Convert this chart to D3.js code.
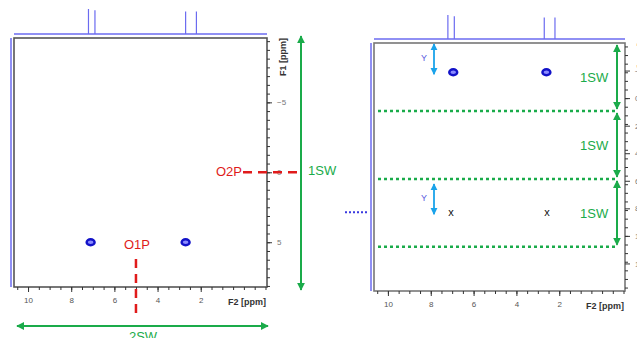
<!DOCTYPE html>
<html>
<head>
<meta charset="utf-8">
<script src="https://cdn.jsdelivr.net/npm/d3@7"></script>
<style>
  body { margin: 0; background: #fff; }
  svg { display: block; font-family: "Liberation Sans", Arial, sans-serif; }
</style>
</head>
<body>
<div id="chart"></div>
<script>
// ---- data ----
const f2Labels = [10, 8, 6, 4, 2];
const f1LeftLabels = [-5, 0, 5];
const f1RightLabels = [-2, 0, 2, 4, 6, 8, 10, 12];
const tracePeaks = [7.2, 6.9, 2.7, 2.2];       // ppm of spikes in the 1D trace
const traceHeights = [1.0, 0.95, 0.9, 0.9];
const crossPeaksF2 = [7.1, 2.7];
const crossPeakLeftF1 = 5;
const peaksRightF2 = [6.95, 2.6];
const aliasRightF2 = [7.05, 2.57];
const o1p = 5.0;       // F2 offset (ppm)
const o2p = 0;         // F1 offset (ppm)
const swBands = [0, 1, 2, 3];          // folded bands in the right panel (SW units)
const bandLabels = ["1SW", "1SW", "1SW"];
const peakRightSW = 0.43;              // observed peak position inside band 1
const aliasRightSW = 2.49;             // expected (x) position in band 3
const yArrows = [[0, 0.43], [2.06, 2.49]];

const width = 637, height = 338;
const svg = d3.select("#chart").append("svg")
  .attr("width", width).attr("height", height);

const green = "#1aab4a", red = "#e01b1b", trace = "#6b6bf0", peak = "#1212c8", cyan = "#1aa3ea";

// arrow markers
const defs = svg.append("defs");
function marker(id, color) {
  defs.append("marker").attr("id", id)
    .attr("viewBox", "0 0 10 10").attr("refX", 9).attr("refY", 5)
    .attr("markerWidth", 4).attr("markerHeight", 4).attr("orient", "auto-start-reverse")
    .append("path").attr("d", "M0,0 L10,5 L0,10 z").attr("fill", color);
}
marker("ag", green);
marker("ac", cyan);

function panel(g, box, yDomain, yLabels, traceBase, traceTop, vTraceX, frameColor) {
  const x = d3.scaleLinear().domain([10.65, -1.07]).range([box.left, box.right]);
  const y = d3.scaleLinear().domain(yDomain).range([box.top, box.bottom]);

  // 1D trace on top
  g.append("line").attr("x1", box.left).attr("x2", box.right)
    .attr("y1", traceBase).attr("y2", traceBase)
    .attr("stroke", trace).attr("stroke-width", 1.5);
  g.selectAll(".spike").data(tracePeaks).enter().append("line")
    .attr("class", "spike")
    .attr("x1", d => x(d)).attr("x2", d => x(d))
    .attr("y1", traceBase)
    .attr("y2", (d, i) => traceBase - (traceBase - traceTop) * traceHeights[i])
    .attr("stroke", trace).attr("stroke-width", 1.2);

  // 1D trace on the left
  g.append("line").attr("x1", vTraceX).attr("x2", vTraceX)
    .attr("y1", box.top).attr("y2", box.bottom)
    .attr("stroke", trace).attr("stroke-width", 1.5);

  // frame
  g.append("rect").attr("x", box.left).attr("y", box.top)
    .attr("width", box.right - box.left).attr("height", box.bottom - box.top)
    .attr("fill", "none").attr("stroke", frameColor).attr("stroke-width", 1.6);

  // x axis
  const xMinor = d3.axisBottom(x).tickValues(d3.range(-1, 10.6, 0.5)).tickSize(3).tickFormat("");
  const xMajor = d3.axisBottom(x).tickValues(f2Labels).tickSize(5).tickPadding(5);
  [xMinor, xMajor].forEach(a => {
    const ax = g.append("g").attr("transform", `translate(0,${box.bottom})`).call(a);
    ax.select(".domain").remove();
    ax.selectAll("line").attr("stroke", "#333");
    ax.selectAll("text").attr("font-size", 8).attr("fill", "#555");
  });
  g.append("text").attr("x", box.right - 1).attr("y", box.bottom + 18)
    .attr("text-anchor", "end").attr("font-size", 9).attr("font-weight", "bold")
    .attr("fill", "#333").text("F2 [ppm]");

  // y axis (right)
  const yMinor = d3.axisRight(y).tickValues(d3.range(Math.ceil(yDomain[0] / 0.625) * 0.625, yDomain[1], 0.625))
    .tickSize(3).tickFormat("");
  const yMajor = d3.axisRight(y).tickValues(yLabels).tickSize(5).tickPadding(5);
  [yMinor, yMajor].forEach(a => {
    const ax = g.append("g").attr("transform", `translate(${box.right},0)`).call(a);
    ax.select(".domain").remove();
    ax.selectAll("line").attr("stroke", "#333");
    ax.selectAll("text").attr("font-size", 8).attr("fill", "#777");
  });
  g.append("text")
    .attr("transform", `translate(${box.right + 19},${box.top + 19}) rotate(-90)`)
    .attr("text-anchor", "middle").attr("font-size", 9).attr("font-weight", "bold")
    .attr("fill", "#333").text("F1 [ppm]");

  return { x, y };
}

function crossPeak(g, data, cx, cy) {
  g.selectAll(null).data(data).enter().append("ellipse")
    .attr("cx", cx).attr("cy", cy)
    .attr("rx", 4).attr("ry", 3)
    .attr("fill", "#8a8aff").attr("stroke", peak).attr("stroke-width", 2.4);
}

// ---- left panel ----
const gL = svg.append("g");
const L = panel(gL, { left: 14, right: 267, top: 38, bottom: 287 }, [-9.6, 8.2], f1LeftLabels, 34, 9, 11, "#555");

crossPeak(gL, crossPeaksF2, d => L.x(d), L.y(crossPeakLeftF1));

// O1P
gL.append("line").attr("x1", L.x(o1p)).attr("x2", L.x(o1p))
  .attr("y1", 259).attr("y2", 316)
  .attr("stroke", red).attr("stroke-width", 2.5).attr("stroke-dasharray", "9,6");
gL.append("text").attr("x", L.x(o1p) + 1).attr("y", 249).attr("text-anchor", "middle")
  .attr("font-size", 13).attr("fill", red).text("O1P");
// O2P
gL.append("line").attr("x1", 243).attr("x2", 297)
  .attr("y1", L.y(o2p)).attr("y2", L.y(o2p))
  .attr("stroke", red).attr("stroke-width", 2.5).attr("stroke-dasharray", "9,6");
gL.append("text").attr("x", 242).attr("y", L.y(o2p) + 4).attr("text-anchor", "end")
  .attr("font-size", 13).attr("fill", red).text("O2P");

// 1SW vertical / 2SW horizontal
gL.append("line").attr("x1", 301).attr("x2", 301).attr("y1", 290).attr("y2", 36)
  .attr("stroke", green).attr("stroke-width", 2)
  .attr("marker-start", "url(#ag)").attr("marker-end", "url(#ag)");
gL.append("text").attr("x", 308).attr("y", 175).attr("font-size", 13).attr("fill", green).text("1SW");
gL.append("line").attr("x1", 17).attr("x2", 268).attr("y1", 326).attr("y2", 326)
  .attr("stroke", green).attr("stroke-width", 2)
  .attr("marker-start", "url(#ag)").attr("marker-end", "url(#ag)");
gL.append("text").attr("x", 143).attr("y", 341).attr("text-anchor", "middle")
  .attr("font-size", 13).attr("fill", green).text("2SW");

// ---- right panel ----
const gR = svg.append("g");
const R = panel(gR, { left: 374, right: 625, top: 43, bottom: 291 }, [-4, 14], f1RightLabels, 39, 15, 371, "#777");
const sw = d3.scaleLinear().domain([0, 3.65]).range([43, 291]);

// band separators
gR.selectAll(".band").data(swBands.slice(1)).enter().append("line")
  .attr("x1", 378).attr("x2", 617)
  .attr("y1", d => sw(d)).attr("y2", d => sw(d))
  .attr("stroke", green).attr("stroke-width", 2.5).attr("stroke-dasharray", "3,3");
gR.selectAll(".barrow").data(bandLabels).enter().append("line")
  .attr("x1", 617).attr("x2", 617)
  .attr("y1", (d, i) => sw(i) + 2).attr("y2", (d, i) => sw(i + 1) - 2)
  .attr("stroke", green).attr("stroke-width", 2)
  .attr("marker-start", "url(#ag)").attr("marker-end", "url(#ag)");
gR.selectAll(".blabel").data(bandLabels).enter().append("text")
  .attr("x", 580).attr("y", (d, i) => sw(i + 0.5) + 5)
  .attr("font-size", 13).attr("fill", green).text(d => d);

// observed peaks
crossPeak(gR, peaksRightF2, d => R.x(d), sw(peakRightSW));
// expected positions
gR.selectAll(".xm").data(aliasRightF2).enter().append("text")
  .attr("x", d => R.x(d)).attr("y", sw(aliasRightSW) + 4)
  .attr("text-anchor", "middle").attr("font-size", 11).attr("fill", "#111").text("x");

// Y arrows
gR.selectAll(".ya").data(yArrows).enter().append("line")
  .attr("x1", 434).attr("x2", 434)
  .attr("y1", d => sw(d[0]) + 1).attr("y2", d => sw(d[1]) + 2)
  .attr("stroke", cyan).attr("stroke-width", 1.8)
  .attr("marker-start", "url(#ac)").attr("marker-end", "url(#ac)");
gR.selectAll(".yl").data(yArrows).enter().append("text")
  .attr("x", 424).attr("y", d => sw((d[0] + d[1]) / 2) + 3)
  .attr("text-anchor", "middle").attr("font-size", 9).attr("fill", "#5a5ae0").text("Y");

// blue dotted level line outside the frame
gR.append("line").attr("x1", 345).attr("x2", 369)
  .attr("y1", sw(aliasRightSW)).attr("y2", sw(aliasRightSW))
  .attr("stroke", "#3a3ae0").attr("stroke-width", 2).attr("stroke-dasharray", "2,2");
</script>
</body>
</html>
